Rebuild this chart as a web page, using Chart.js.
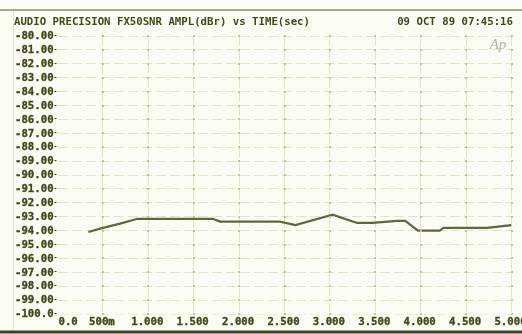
<!DOCTYPE html>
<html>
<head>
<meta charset="utf-8">
<title>FX50SNR AMPL vs TIME</title>
<script src="https://cdn.jsdelivr.net/npm/chart.js@4/dist/chart.umd.min.js"></script>
<style>
  html, body { margin: 0; padding: 0; background: #fcfcf4; overflow: hidden; }
  #wrap { position: relative; width: 522px; height: 334px; }
  #plot { position: absolute; left: 0; top: 0; }
  .hdr {
    position: absolute; top: 15px; line-height: 12px; white-space: pre;
    font: bold 10.7px "DejaVu Sans Mono", monospace; color: #46461a;
  }
  #hdrLeft { left: 14px; }
  #hdrRight { right: 9px; }
</style>
</head>
<body>
<div id="wrap">
  <canvas id="plot" width="522" height="334"></canvas>
  <div class="hdr" id="hdrLeft">AUDIO PRECISION FX50SNR AMPL(dBr) vs TIME(sec)</div>
  <div class="hdr" id="hdrRight">09 OCT 89 07:45:16</div>
</div>
<script>
// Sweep: time (s) and measured amplitude (dBr)
const times  = [0.34, 0.50, 0.69, 0.88, 1.71, 1.79, 2.45, 2.62, 3.03, 3.30, 3.47, 3.74, 3.83, 3.97, 4.21, 4.25, 4.73, 5.00];
const levels = [-94.1, -93.8, -93.5, -93.15, -93.15, -93.35, -93.35, -93.6, -92.85, -93.45, -93.45, -93.3, -93.3, -94.0, -94.0, -93.8, -93.8, -93.6];

// Axis ticks
const xTickValues = [0, 0.5, 1, 1.5, 2, 2.5, 3, 3.5, 4, 4.5, 5];
const xTickLabels = ['0.0', '500m', '1.000', '1.500', '2.000', '2.500', '3.000', '3.500', '4.000', '4.500', '5.000'];
const yTickValues = [-80, -81, -82, -83, -84, -85, -86, -87, -88, -89, -90, -91, -92, -93, -94, -95, -96, -97, -98, -99, -100];
const yTickLabels = ['-80.00', '-81.00', '-82.00', '-83.00', '-84.00', '-85.00', '-86.00', '-87.00', '-88.00', '-89.00', '-90.00',
                     '-91.00', '-92.00', '-93.00', '-94.00', '-95.00', '-96.00', '-97.00', '-98.00', '-99.00', '-100.0'];

const INK = '#46461a';
const GRID = '#e2e4c2';
const LABEL_FONT = 'bold 10.7px "DejaVu Sans Mono", monospace';

// Frame, tick labels, intersection marks and the Ap logo
const plotText = {
  id: 'plotText',
  beforeDraw(chart) {
    const ctx = chart.ctx;
    ctx.save();
    ctx.strokeStyle = '#a7a98a';
    ctx.lineWidth = 2;
    ctx.beginPath(); ctx.moveTo(0, 10); ctx.lineTo(522, 10); ctx.stroke();
    ctx.strokeStyle = '#e2e3cf';
    ctx.lineWidth = 1;
    ctx.beginPath(); ctx.moveTo(13.5, 11); ctx.lineTo(13.5, 330); ctx.stroke();
    ctx.strokeStyle = '#3f3f22';
    ctx.lineWidth = 3;
    ctx.beginPath(); ctx.moveTo(0, 332); ctx.lineTo(522, 332); ctx.stroke();
    ctx.restore();
  },
  afterDatasetsDraw(chart) {
    const ctx = chart.ctx;
    const xs = chart.scales.x, ys = chart.scales.y;
    const area = chart.chartArea;
    ctx.save();
    // small marks where vertical grid lines cross the horizontal ones
    ctx.fillStyle = '#c2c497';
    xTickValues.forEach(t => {
      if (t === 0) return;
      const px = Math.round(xs.getPixelForValue(t));
      yTickValues.forEach(v => {
        const py = Math.round(ys.getPixelForValue(v));
        ctx.fillRect(px - 1, py - 1, 2, 2);
      });
    });
    // y labels and their small tick marks
    ctx.font = LABEL_FONT;
    ctx.fillStyle = INK;
    ctx.strokeStyle = INK;
    ctx.lineWidth = 0.35;
    ctx.textBaseline = 'middle';
    ctx.textAlign = 'left';
    yTickValues.forEach((v, i) => {
      const py = ys.getPixelForValue(v);
      ctx.fillText(yTickLabels[i], 15, py + 0.5);
      ctx.strokeText(yTickLabels[i], 15, py + 0.5);
      ctx.fillRect(area.left - 3, Math.round(py) - 1, 2, 1);
    });
    // x labels
    xTickValues.forEach((t, i) => {
      const px = xs.getPixelForValue(t);
      const lx = i === 0 ? px + 1 : px - 1;
      ctx.textAlign = i === 0 ? 'left' : 'center';
      ctx.fillText(xTickLabels[i], lx, area.bottom + 8);
      ctx.strokeText(xTickLabels[i], lx, area.bottom + 8);
    });
    // Ap logo
    ctx.font = 'italic 15px "Liberation Serif", serif';
    ctx.fillStyle = '#b4b4a6';
    ctx.textAlign = 'left';
    ctx.textBaseline = 'alphabetic';
    ctx.fillText('Ap', xs.getPixelForValue(4.76), ys.getPixelForValue(-80.9));
    ctx.restore();
  }
};

new Chart(document.getElementById('plot'), {
  type: 'line',
  data: {
    datasets: [{
      data: times.map((t, i) => ({ x: t, y: levels[i] })),
      borderColor: '#66643c',
      borderWidth: 2.2,
      pointRadius: 0,
      tension: 0,
      fill: false
    }]
  },
  options: {
    responsive: false,
    animation: false,
    devicePixelRatio: 1,
    layout: { padding: { left: 57.5, right: 10.5, top: 36, bottom: 20 } },
    plugins: { legend: { display: false }, tooltip: { enabled: false } },
    scales: {
      x: {
        type: 'linear',
        min: 0, max: 5,
        afterBuildTicks: s => { s.ticks = xTickValues.map(v => ({ value: v })); },
        afterFit: s => { s.height = 0; },
        ticks: { display: false },
        grid: {
          color: ctx => (ctx.tick && ctx.tick.value === 0) ? 'rgba(0,0,0,0)' : GRID,
          lineWidth: 1,
          drawTicks: false
        },
        border: { display: false, dash: [10, 4] }
      },
      y: {
        type: 'linear',
        min: -100, max: -80,
        afterBuildTicks: s => { s.ticks = yTickValues.map(v => ({ value: v })); },
        afterFit: s => { s.width = 0; },
        ticks: { display: false },
        grid: {
          color: ctx => (ctx.tick && ctx.tick.value === -100) ? '#eeefd8' : GRID,
          lineWidth: 1,
          drawTicks: false
        },
        border: { display: false, dash: [10, 4] }
      }
    }
  },
  plugins: [plotText]
});
</script>
</body>
</html>
